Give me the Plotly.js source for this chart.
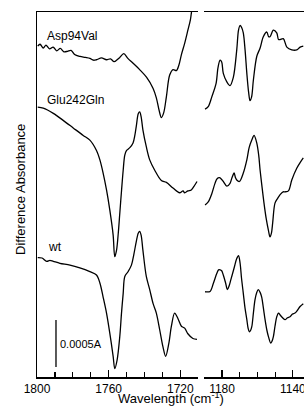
<!DOCTYPE html>
<html>
<head>
<meta charset="utf-8">
<script src="https://cdn.plot.ly/plotly-3.0.1.min.js"></script>
<style>html,body{margin:0;padding:0;background:#fff;}#chart{width:304px;height:406px;}</style>
</head>
<body>
<div id="chart"></div>
<script>
// Difference absorbance, in units of 1e-4 A (stacked with offsets as in the figure)
// ---- 1800-1710 cm-1 region ----
const aspL_wn  = [1799.6,1798.3,1796.5,1795,1793,1791,1789,1787,1785,1783,1781,1779,1776,1773,1770.5,1768.5,1766.8,1764,1761.2,1759,1757,1755,1753.8,1751.6,1749.3,1746.5,1742.7,1738.9,1735.2,1733.4,1731.9,1730.6,1729.3,1727.8,1726,1724.1,1722.2,1720.8,1719.4,1717.6,1715.8,1714.4,1713.5];
const aspL_abs = [35.2,35.4,35.0,35.3,34.9,35.1,34.7,34.95,34.6,34.65,34.75,34.3,34.1,34.0,33.9,33.7,33.75,33.95,33.75,33.85,33.55,33.8,34.0,34.4,33.9,33.4,32.7,31.9,30.7,29.7,28.4,27.6,28.1,29.8,32.1,32.7,32.6,33.2,34.3,35.5,36.9,38.0,39.3];

const gluL_wn  = [1799.6,1796.5,1790.9,1785.4,1779.8,1774.2,1770.5,1766.8,1764.9,1763.1,1761.2,1759.4,1757.5,1756.6,1755.6,1754.6,1753.8,1752.8,1751.9,1751,1750,1748.2,1746.4,1745.4,1744.5,1743.5,1742.7,1741.9,1740.9,1739,1737.1,1734.3,1730.6,1727.8,1724.1,1720.4,1718.5,1717.6,1715.8,1713.9,1712,1710.7];
const gluL_abs = [28.7,28.6,28.05,27.3,26.5,25.7,25.2,24.1,23.1,21.7,19.9,17.8,15.1,12.8,13.5,15.4,17.4,19.9,22.0,23.6,24.1,24.4,24.9,25.7,26.8,28.0,28.2,27.7,26.3,24.5,23.1,22.0,20.9,20.7,20.1,19.6,19.8,19.6,19.8,19.9,20.4,20.8];

const wtL_wn  = [1799.6,1797.2,1794.6,1792.8,1790.9,1787.2,1781.6,1776.1,1770.5,1766.8,1764.9,1763.1,1761.2,1759.4,1757.5,1756.6,1755.3,1753.8,1752.8,1751.9,1751,1749.2,1747.3,1746,1744.6,1743.5,1742.7,1741.9,1740.9,1739,1737.1,1735.2,1733.4,1731.5,1729.7,1728.2,1726.4,1725,1723.2,1721.3,1719.4,1717.6,1715.8,1713,1710.7];
const wtL_abs = [12.7,12.66,12.3,12.4,12.3,12.1,11.9,11.6,11.2,10.85,10.0,8.5,6.8,4.7,2.2,0.9,1.8,4.3,6.9,8.9,10.7,11.2,11.9,13.0,14.4,15.3,15.5,15.1,13.5,10.7,9.3,7.8,6.8,5.0,3.2,2.2,3.6,5.4,6.8,6.2,5.4,5.2,4.6,4.1,4.0];

// ---- 1190-1134 cm-1 region ----
const aspR_wn  = [1189.6,1187.7,1185.8,1183.4,1182.3,1181.1,1180.2,1179.3,1177.3,1175.5,1173.6,1171.7,1170.7,1169.8,1169,1168,1167,1166,1165,1164.2,1163.3,1162.3,1160.4,1158.5,1156.7,1154.7,1153.7,1152.9,1151,1149.1,1148.1,1147.2,1145.4,1143.4,1140.6,1137.8,1135.9,1134.1];
const aspR_abs = [28.5,28.8,29.8,31.2,32.9,33.7,33.5,32.3,31.4,31.0,31.9,34.8,36.9,37.4,37.2,36.6,34.8,32.3,30.3,29.4,29.8,31.6,34.1,35.0,36.2,36.7,36.2,36.2,36.9,36.6,35.9,35.9,36.0,35.1,34.8,34.8,35.1,35.2];

const gluR_wn  = [1189.6,1187.7,1185.8,1184,1182.8,1181.5,1180.6,1179.3,1177.3,1175.5,1174.4,1173.2,1172.4,1171.7,1170.2,1168,1166,1164.7,1163.2,1161.9,1160.4,1159.3,1158.5,1157.4,1156.3,1155.1,1153.8,1152.9,1152.1,1151.4,1150.1,1148.6,1147.2,1145.5,1144.4,1142.5,1140.6,1137.8,1135.9,1134.1];
const gluR_abs = [18.3,18.65,19.5,20.6,21.1,21.2,21.1,20.8,20.3,20.6,21.2,21.7,21.2,20.96,20.8,21.7,23.1,24.4,25.2,25.7,24.9,23.6,22.0,20.2,18.5,16.9,15.6,14.9,15.3,16.4,18.5,19.0,19.4,19.7,19.7,19.8,20.96,22.2,22.8,23.3];

const wtR_wn  = [1189.6,1186.8,1184.9,1183,1182,1181.1,1180.2,1179.3,1178,1177,1176,1175.1,1173.2,1171.8,1170.7,1169.8,1169,1168,1167,1166,1165.3,1164.6,1163.9,1163.2,1162.3,1161.4,1160.4,1159.5,1158.5,1157.6,1156.7,1155.7,1154.7,1153.8,1152.5,1151.8,1151,1150.1,1149.1,1148.1,1147.2,1145.8,1144.4,1143,1141.6,1140.2,1138.8,1137.4,1135.9,1134.1];
const wtR_abs = [9.07,9.1,9.97,11.0,11.4,11.4,11.3,10.85,10.0,9.3,9.7,10.3,11.6,12.55,12.9,12.1,10.5,8.9,7.3,6.1,5.2,4.8,4.95,5.35,6.8,8.2,9.0,9.3,9.0,8.5,7.4,6.1,5.0,4.3,3.6,3.8,4.3,5.4,6.4,6.8,6.6,6.3,6.1,6.3,6.4,6.7,6.8,7.1,7.5,7.8];

// scale bar: 0.0005 A = 5 units
const scaleBar_wn  = [1789.4, 1789.4];
const scaleBar_abs = [1.06, 6.06];
const scaleBar_label = "0.0005A";

const labels = ["Asp94Val", "Glu242Gln", "wt"];
const labelPos_wn = [1795.3, 1795.3, 1794.8];
const labelPos_abs = [36.3, 29.5, 13.8];

const font = "Arial, 'Liberation Sans', sans-serif";
const lineStyle = {color: "#000", width: 1.3, shape: "spline", smoothing: 0.9};

function tr(x, y, xa) {
  return {x: x, y: y, xaxis: xa, yaxis: "y", type: "scatter", mode: "lines",
          line: lineStyle, hoverinfo: "skip", cliponaxis: true};
}

const data = [
  tr(aspL_wn, aspL_abs, "x"), tr(gluL_wn, gluL_abs, "x"), tr(wtL_wn, wtL_abs, "x"),
  tr(aspR_wn, aspR_abs, "x2"), tr(gluR_wn, gluR_abs, "x2"), tr(wtR_wn, wtR_abs, "x2"),
  {x: scaleBar_wn, y: scaleBar_abs, xaxis: "x", yaxis: "y", type: "scatter", mode: "lines",
   line: {color: "#000", width: 1.3}, hoverinfo: "skip"}
];

const xCommon = {
  showline: true, linecolor: "#000", linewidth: 1.5, mirror: true,
  ticks: "inside", ticklen: 7, tickwidth: 1.2, tickcolor: "#000",
  dtick: 40, showgrid: false, zeroline: false,
  tickfont: {family: font, size: 12, color: "#000"},
  ticklabeloverflow: "allow",
  minor: {dtick: 10, ticks: "inside", ticklen: 5, tickwidth: 1.2, tickcolor: "#000", showgrid: false},
  anchor: "y", fixedrange: true
};

const annotations = labels.map((t, i) => ({
  text: t, x: labelPos_wn[i], y: labelPos_abs[i], xref: "x", yref: "y",
  xanchor: "left", yanchor: "middle", showarrow: false,
  font: {family: font, size: 12, color: "#000"}
}));
annotations.push({
  text: scaleBar_label, x: 1788.3, y: 3.5, xref: "x", yref: "y",
  xanchor: "left", yanchor: "middle", showarrow: false,
  font: {family: font, size: 11, color: "#000"}
});
annotations.push({
  text: "Wavelength (cm<sup>-1</sup>)", x: 0.5, y: -0.058, xref: "paper", yref: "paper",
  xanchor: "center", yanchor: "middle", showarrow: false,
  font: {family: font, size: 13, color: "#000"}
});
annotations.push({
  text: "Difference Absorbance", x: -0.064, y: 0.515, xref: "paper", yref: "paper",
  xanchor: "center", yanchor: "middle", showarrow: false, textangle: -90,
  font: {family: font, size: 13, color: "#000"}
});

const layout = {
  width: 304, height: 406,
  margin: {l: 37, r: 0, t: 12, b: 29, pad: 0},
  paper_bgcolor: "#fff", plot_bgcolor: "#fff",
  showlegend: false,
  xaxis: Object.assign({}, xCommon, {domain: [0, 0.604], range: [1800, 1710], tick0: 1800}),
  xaxis2: Object.assign({}, xCommon, {domain: [0.6255, 1], range: [1190.2, 1133.7], tick0: 1180}),
  yaxis: {domain: [0, 1], range: [0, 38.83], showline: true, linecolor: "#000", linewidth: 1.5,
          ticks: "", showticklabels: false, showgrid: false, zeroline: false, anchor: "x", fixedrange: true},
  annotations: annotations
};

Plotly.newPlot("chart", data, layout, {staticPlot: true, displayModeBar: false});
</script>
</body>
</html>
